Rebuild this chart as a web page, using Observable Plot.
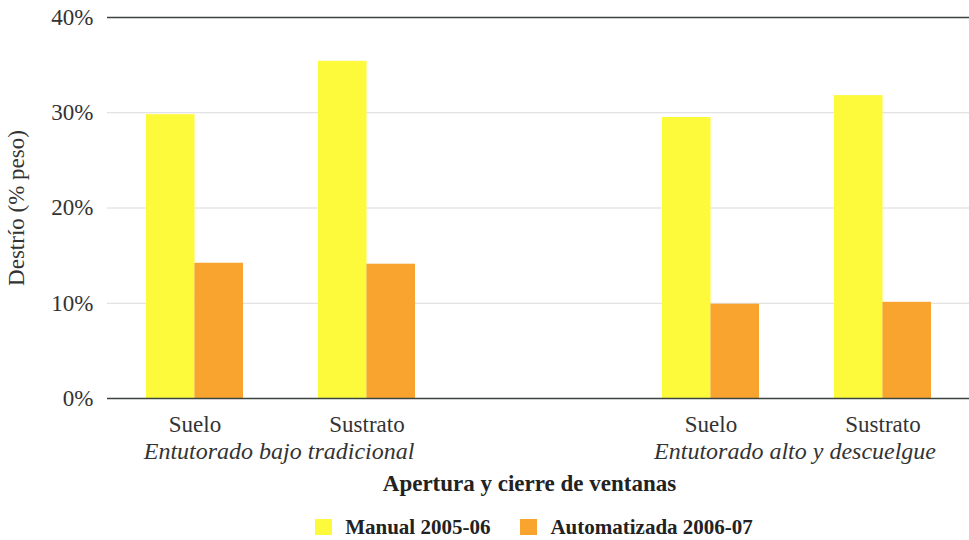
<!DOCTYPE html>
<html>
<head>
<meta charset="utf-8">
<script src="https://cdn.jsdelivr.net/npm/d3@7"></script>
<script src="https://cdn.jsdelivr.net/npm/@observablehq/plot@0.6"></script>
<style>
  html, body { margin: 0; padding: 0; background: #fff; }
  body { width: 969px; height: 540px; overflow: hidden; font-family: "Liberation Serif", "Times New Roman", serif; }
  #chart svg, #chart svg text { font-family: "Liberation Serif", "Times New Roman", serif !important; }
  #legend { display: flex; justify-content: center; align-items: center; height: 38px; padding-left: 99px; box-sizing: border-box; }
  .item { display: flex; align-items: center; margin: 0 15px; font-weight: bold; font-size: 21px; color: #222; }
  .sw { width: 17px; height: 16px; margin-right: 13px; }
</style>
</head>
<body>
<div id="chart"></div>
<div id="legend"></div>
<script>
// ---- data ----
const groups = ["Entutorado bajo tradicional", "Entutorado alto y descuelgue"];
const substrates = ["Suelo", "Sustrato"];
const series = ["Manual 2005-06", "Automatizada 2006-07"];
const manual = [29.8, 35.4, 29.5, 31.8];      // Manual 2005-06 (%)
const automatizada = [14.2, 14.1, 9.9, 10.1]; // Automatizada 2006-07 (%)
const colors = ["#fdfa3c", "#f8a42e"];
const yTicks = [0, 10, 20, 30, 40];
const gridTicks = [10, 20, 30];
const frameTicks = [0, 40];
const yLabel = "Destrío (% peso)";
const xTitle = "Apertura y cierre de ventanas";

// ---- build table ----
const keys = [];
const rows = [];
const groupRows = [];
groups.forEach((g, gi) => {
  substrates.forEach((s, si) => {
    const i = gi * 2 + si;
    const key = g + "|" + s;
    keys.push(key);
    rows.push({key, group: g, sub: s, series: series[0], value: manual[i]});
    rows.push({key, group: g, sub: s, series: series[1], value: automatizada[i]});
    if (si === 0) groupRows.push({key, group: g});
  });
});
const GAP = "gap";
const xDomain = [keys[0], keys[1], GAP, keys[2], keys[3]];

const FONT = '"Liberation Serif", "Times New Roman", serif';
const W = 969, H = 508, mL = 107, mR = 0, mT = 17, mB = 110;
const xOpts = {type: "band", domain: xDomain, paddingInner: 0.437, paddingOuter: 0.223};
const xs = Plot.scale({x: {...xOpts, range: [mL, W - mR]}});
const bw = xs.bandwidth;
const step = xs.step;

const chart = Plot.plot({
  width: W,
  height: H,
  marginLeft: mL,
  marginRight: mR,
  marginTop: mT,
  marginBottom: mB,
  style: {fontFamily: FONT, fontSize: "23px", color: "#333", background: "white"},
  x: {...xOpts, label: null},
  y: {domain: [0, 40]},
  color: {domain: series, range: colors},
  marks: [
    Plot.ruleY(gridTicks, {stroke: "#dadada", strokeWidth: 1}),
    Plot.barY(rows.filter(d => d.series === series[0]), {x: "key", y: "value", fill: "series", insetRight: bw / 2}),
    Plot.barY(rows.filter(d => d.series === series[1]), {x: "key", y: "value", fill: "series", insetLeft: bw / 2}),
    Plot.ruleY(frameTicks, {stroke: "#3a4540", strokeWidth: 1.5}),
    Plot.axisY({ticks: yTicks, tickSize: 0, tickPadding: 14, tickFormat: d => d + "%",
      label: yLabel, labelAnchor: "center", labelArrow: "none", labelOffset: 100,
      fontSize: 23, fontFamily: FONT, fill: "#333"}),
    Plot.axisX({tickSize: 0, tickPadding: 17, label: null, fontSize: 23, fontFamily: FONT, fill: "#333",
      tickFormat: k => (k === GAP ? "" : k.split("|")[1])}),
    Plot.text(groupRows, {x: "key", text: "group", frameAnchor: "bottom", dx: step / 2 - 2, dy: 60,
      fontStyle: "italic", fontSize: 24, fontFamily: FONT, fill: "#333"}),
    Plot.text([xTitle], {frameAnchor: "bottom", dy: 92, dx: -9,
      fontWeight: "bold", fontSize: 23, fontFamily: FONT, fill: "#222"})
  ]
});
document.getElementById("chart").appendChild(chart);

// ---- legend ----
const legend = document.getElementById("legend");
series.forEach((s, i) => {
  const item = document.createElement("div");
  item.className = "item";
  const sw = document.createElement("span");
  sw.className = "sw";
  sw.style.background = colors[i];
  const t = document.createElement("span");
  t.textContent = s;
  item.appendChild(sw);
  item.appendChild(t);
  legend.appendChild(item);
});
</script>
</body>
</html>
